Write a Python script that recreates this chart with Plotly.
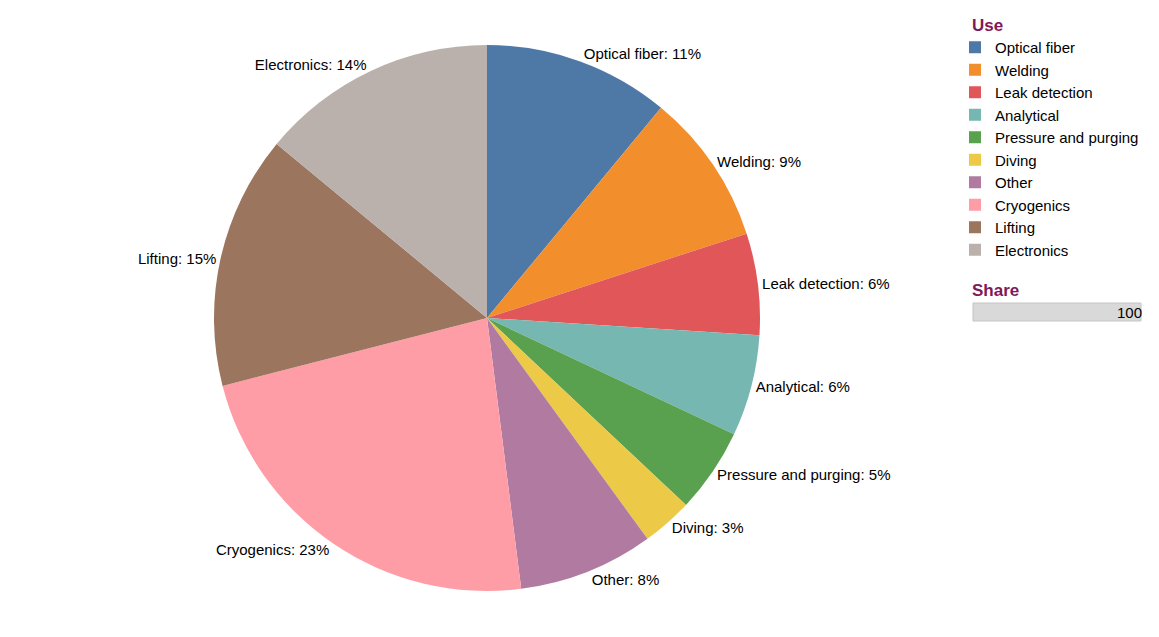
import plotly.graph_objects as go

uses = ["Optical fiber", "Welding", "Leak detection", "Analytical", "Pressure and purging",
        "Diving", "Other", "Cryogenics", "Lifting", "Electronics"]
shares = [11, 9, 6, 6, 5, 3, 8, 23, 15, 14]
colors = ["#4e79a7", "#f28e2b", "#e15759", "#76b7b2", "#59a14f",
          "#edc948", "#b07aa1", "#ff9da7", "#9c755f", "#bab0ac"]

W, H = 1159, 637
cx, cy, R = 487, 318, 273
FONT = "Liberation Sans, Arial, sans-serif"

fig = go.Figure(go.Pie(
    labels=uses, values=shares, sort=False, direction="clockwise", rotation=0,
    marker=dict(colors=colors, line=dict(width=0)),
    texttemplate="%{label}: %{value}%", textposition="outside",
    outsidetextfont=dict(family=FONT, size=15, color="black"),
    domain=dict(x=[(cx - R - 200) / W, (cx + R + 200) / W],
                y=[(H - cy - R) / H, (H - cy + R) / H]),
    hoverinfo="label+value",
))

title_color = "#80195a"
fig.update_layout(
    width=W, height=H, margin=dict(l=0, r=0, t=0, b=0, autoexpand=False),
    paper_bgcolor="white", plot_bgcolor="white",
    font=dict(family=FONT, size=15, color="black"),
    legend=dict(
        x=955 / W, y=1 - 31 / H, xanchor="left", yanchor="top",
        font=dict(size=15), tracegroupgap=0, itemsizing="constant",
    ),
)

fig.add_annotation(xref="paper", yref="paper", x=970 / W, y=1 - 25 / H,
                   text="<b>Use</b>", showarrow=False, xanchor="left", yanchor="middle",
                   font=dict(size=17, color=title_color))
fig.add_annotation(xref="paper", yref="paper", x=970 / W, y=1 - 290 / H,
                   text="<b>Share</b>", showarrow=False, xanchor="left", yanchor="middle",
                   font=dict(size=17, color=title_color))
fig.add_shape(type="rect", xref="paper", yref="paper",
              x0=973 / W, x1=1141 / W, y0=1 - 321 / H, y1=1 - 303 / H,
              fillcolor="#d9d9d9", line=dict(color="#c4c4c4", width=1))
fig.add_annotation(xref="paper", yref="paper", x=1144 / W, y=1 - 312 / H,
                   text=str(sum(shares)), showarrow=False, xanchor="right", yanchor="middle",
                   font=dict(size=15, color="black"))

fig.write_html("out.html")
